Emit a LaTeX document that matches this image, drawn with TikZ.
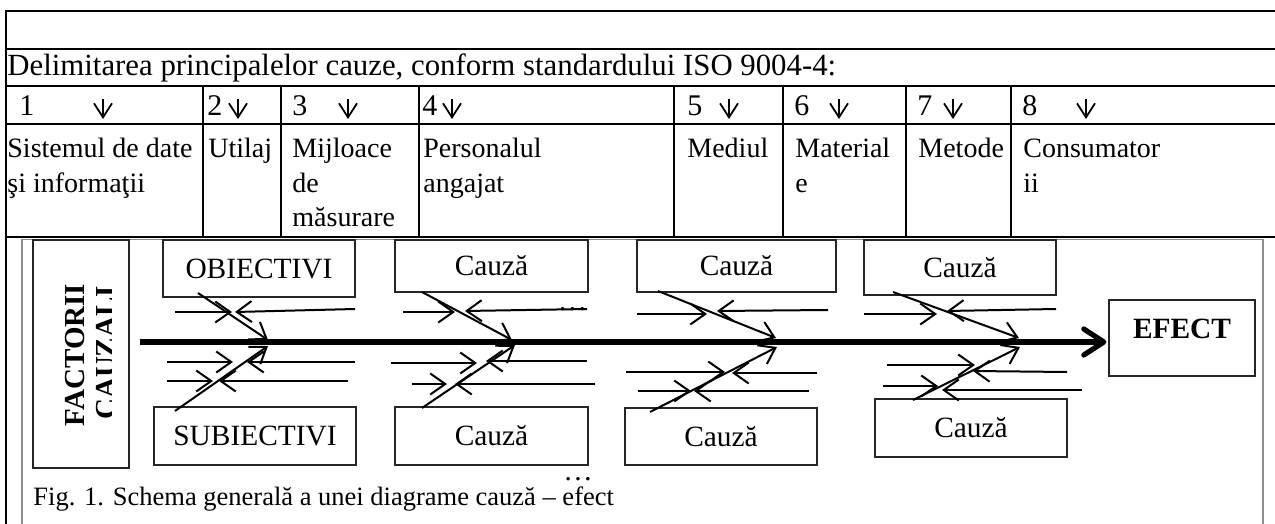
\documentclass[tikz,border=0pt]{standalone}
\usepackage{fontspec}
\setmainfont{Liberation Serif}
\usetikzlibrary{arrows.meta}
\begin{document}
\begin{tikzpicture}[x=0.5pt,y=-0.5pt,
  rule/.style={line width=1pt,line cap=rect},
  frame/.style={line width=0.7pt,draw=black!45},
  box/.style={draw=black!85,line width=0.6pt,rectangle,inner sep=0pt,
    font=\fontsize{14.7}{16}\selectfont},
  headtxt/.style={inner sep=0pt,anchor=base west,font=\fontsize{15.4}{17}\selectfont},
  numtxt/.style={inner sep=0pt,anchor=base west,font=\fontsize{15}{17}\selectfont},
  tabtxt/.style={inner sep=0pt,anchor=base west,font=\fontsize{14}{16}\selectfont},
  dgtxt/.style={inner sep=0pt,anchor=base,font=\fontsize{14.7}{16}\selectfont},
  sidetxt/.style={inner sep=0pt,anchor=center,rotate=90,font=\fontsize{14.5}{15}\selectfont\bfseries},
  captxt/.style={inner sep=0pt,anchor=base west,font=\fontsize{13.25}{15}\selectfont},
  bone/.style={line width=1pt,-{Straight Barb[length=7.5pt,width=10.5pt]}},
  spine/.style={line width=3pt,-{Straight Barb[length=10pt,width=13pt,line width=2.6pt,round]}},
  downarrow/.style={line width=0.9pt,-{Straight Barb[length=7pt,width=9pt]}}]
\useasboundingbox (0,0) rectangle (1275,524);

% ---------- table of the main cause groups ----------
\foreach \y in {11,49,86,124,237} \draw[rule] (6,\y) -- (1275,\y);
\draw[rule] (6,11) -- (6,524);
\foreach \x in {203,281,419,674,783,906,1011} \draw[rule] (\x,86) -- (\x,237);

\node[headtxt] (head) at (7,76) {Delimitarea principalelor cauze, conform standardului ISO 9004-4:};

\foreach \n/\xn/\xa in {1/19/103,2/207/238,3/292/348,4/422/452,5/687/729,6/794/839,7/917/953,8/1022/1086}{
  \node[numtxt] (num\n) at (\xn,116) {\n};
  \coordinate (da\n) at (\xa,99);
  \coordinate (db\n) at (\xa,119);
  \draw[downarrow] (da\n) -- (db\n);
}

\node[tabtxt] (c1a) at (7,157) {Sistemul de date};
\node[tabtxt] (c1b) at (7,192) {şi informaţii};
\node[tabtxt] (c2a) at (208,157) {Utilaj};
\node[tabtxt] (c3a) at (292,157) {Mijloace};
\node[tabtxt] (c3b) at (292,192) {de};
\node[tabtxt] (c3c) at (292,227) {măsurare};
\node[tabtxt] (c4a) at (423,157) {Personalul};
\node[tabtxt] (c4b) at (423,192) {angajat};
\node[tabtxt] (c5a) at (687,157) {Mediul};
\node[tabtxt] (c6a) at (795,157) {Material};
\node[tabtxt] (c6b) at (795,192) {e};
\node[tabtxt] (c7a) at (918,157) {Metode};
\node[tabtxt] (c8a) at (1023,157) {Consumator};
\node[tabtxt] (c8b) at (1023,192) {ii};

% ---------- frame of the cause-effect diagram ----------
\draw[frame] (22,524) -- (22,239.5) -- (1263,239.5) -- (1263,524);

% side label, its second line cut by the box
\node[box,minimum width=48pt,minimum height=114pt] (factbox) at (81,354) {};
\begin{scope}
  \clip (33,240) rectangle (111,468);
  \node[sidetxt] (fact1) at (75.5,355) {FACTORII};
  \node[sidetxt] (fact2) at (106.5,353) {CAUZALI};
\end{scope}

% cause boxes
\node[box,minimum width=96pt,minimum height=28.5pt] (obj) at (259,268.5) {OBIECTIVI};
\node[box,minimum width=96.5pt,minimum height=26pt] (ct1) at (491.5,266) {Cauză};
\node[box,minimum width=99.5pt,minimum height=26pt] (ct2) at (736.5,266) {Cauză};
\node[box,minimum width=96pt,minimum height=27.5pt] (ct3) at (960,267.5) {Cauză};
\node[box,minimum width=101pt,minimum height=29pt] (subj) at (255,436) {SUBIECTIVI};
\node[box,minimum width=96.5pt,minimum height=29pt] (cb1) at (491.5,436) {Cauză};
\node[box,minimum width=96pt,minimum height=28.5pt] (cb2) at (721,436.5) {Cauză};
\node[box,minimum width=96pt,minimum height=29pt] (cb3) at (971,428) {Cauză};
\node[box,minimum width=73pt,minimum height=38pt,text height=9.6pt,text depth=9.6pt,
  font=\fontsize{14.7}{16}\selectfont\bfseries] (efect) at (1182,338) {EFECT};

\node[dgtxt] (more1) at (572.5,310) {…};
\node[dgtxt] (more2) at (578,480) {…};

% main spine
\coordinate (sp0) at (140,342);
\draw[spine] (sp0) -- ([xshift=-1pt]sp0 -| efect.west);

% bones: start / tip
\foreach \n/\xa/\ya/\xb/\yb in {
  g1d1/198/293/268/340, g1d2/175/411/268/346,
  g1h1/175/312/232/312, g1h2/355/309/235/312,
  g1h3/167/362/233/362, g1h4/355/362/247/362,
  g1h5/167/381/213/381, g1h6/348/381/219/381,
  g2d1/422/292/512/340, g2d2/422/408/515/345,
  g2h1/403/312/455/312, g2h2/587/309/465/311,
  g2h3/391/363/477/363, g2h4/587/361/486/361,
  g2h5/412/384/447/384, g2h6/595/384/455/384,
  g3d1/658/291/776/338, g3d2/650/412/777/347,
  g3h1/637/314/707/314, g3h2/828/310/717/311,
  g3h3/626/372/725/372, g3h4/817/373/732/373,
  g3h5/638/391/691/391, g3h6/809/391/694/391,
  g4d1/893/292/1019/338, g4d2/913/400/1020/347,
  g4h1/864/314/937/314, g4h2/1056/309/947/311,
  g4h3/887/365/975/365, g4h4/1067/372/973/371,
  g4h5/883/386/938/386, g4h6/1082/390/942/390}{
  \coordinate (\n a) at (\xa,\ya);
  \coordinate (\n b) at (\xb,\yb);
  \draw[bone] (\n a) -- (\n b);
}

\node[captxt] (caption) at (33,505) {Fig. 1. Schema generală a unei diagrame cauză – efect};
\end{tikzpicture}
\end{document}
